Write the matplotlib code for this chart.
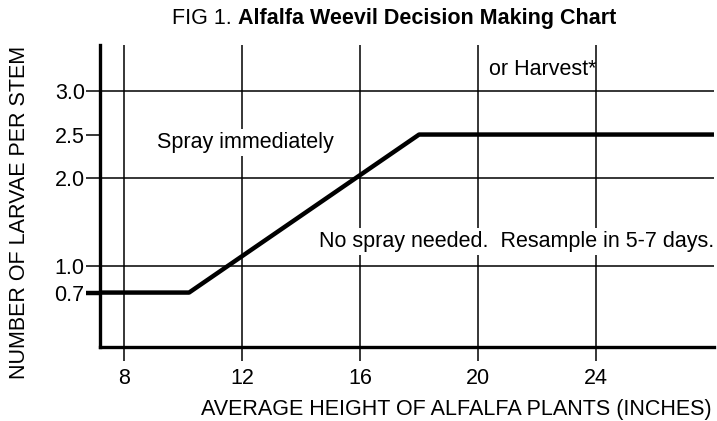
import matplotlib
matplotlib.use("Agg")
import matplotlib.pyplot as plt

plt.rcParams['font.family'] = ['Liberation Sans', 'DejaVu Sans']

# threshold line (plant height in inches vs larvae per stem)
height = [7.0, 10.2, 18.0, 28.0]
larvae = [0.7, 0.7, 2.5, 2.5]

x_ticks = [8, 12, 16, 20, 24]
y_ticks = [0.7, 1.0, 2.0, 2.5, 3.0]
y_grid = [1.0, 2.0, 3.0]

fs = 15.5

fig = plt.figure(figsize=(7.17, 4.21), dpi=100)
ax = fig.add_axes([0.1395, 0.1758, 0.8563, 0.7173])

ax.set_xlim(7.18, 28.0)
ax.set_ylim(0.08, 3.52)

# grid
for yv in y_grid:
    ax.axhline(yv, color='black', lw=1.1, zorder=1)
for xv in x_ticks:
    ax.axvline(xv, color='black', lw=1.1, zorder=1)

ax.plot(height, larvae, color='black', lw=3.2, solid_capstyle='butt', zorder=3)

ax.set_xticks(x_ticks)
ax.set_yticks(y_ticks)
ax.set_yticklabels(['%.1f' % v for v in y_ticks])
ax.tick_params(axis='both', direction='out', length=10, width=1.1,
               labelsize=fs, color='black')
ax.tick_params(axis='y', pad=1)
ax.tick_params(axis='x', pad=5)
ax.yaxis.get_major_ticks()[0].tick1line.set_markeredgewidth(3.2)

for s in ['top', 'right']:
    ax.spines[s].set_visible(False)
for s in ['left', 'bottom']:
    ax.spines[s].set_linewidth(2.4)
    ax.spines[s].set_zorder(4)

box = dict(facecolor='white', edgecolor='none', pad=2)
ax.text(12.1, 2.41, 'Spray immediately', fontsize=fs, ha='center', va='center',
        bbox=box, zorder=2)
ax.text(22.2, 3.24, 'or Harvest*', fontsize=fs, ha='center', va='center', zorder=2)
ax.text(21.3, 1.28, 'No spray needed.  Resample in 5-7 days.', fontsize=fs,
        ha='center', va='center', bbox=box, zorder=2)

xl = ax.set_xlabel('AVERAGE HEIGHT OF ALFALFA PLANTS (INCHES)', fontsize=fs)
xl.set_va('center')
ax.xaxis.set_label_coords(0.580, -0.208)
yl = ax.set_ylabel('NUMBER OF LARVAE PER STEM', fontsize=fs)
yl.set_va('center')
ax.yaxis.set_label_coords(-0.131, 0.447)

fig.text(0.332, 0.943, 'FIG 1. ', fontsize=fs, ha='right', va='baseline')
fig.text(0.332, 0.943, 'Alfalfa Weevil Decision Making Chart', fontsize=fs,
         fontweight='bold', ha='left', va='baseline')

fig.savefig('out.png', dpi=100, facecolor='white')
